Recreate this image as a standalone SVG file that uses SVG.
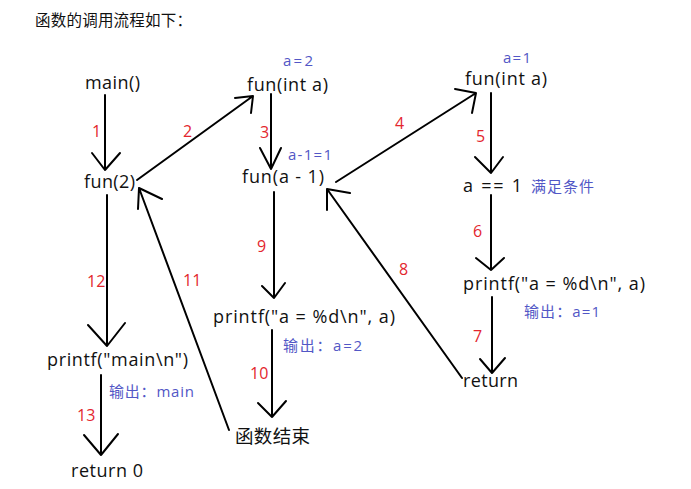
<svg xmlns="http://www.w3.org/2000/svg" width="691" height="489" viewBox="0 0 691 489">
<style>
.t{font-family:"Open Sans","Noto Sans CJK SC",sans-serif;font-size:18px;fill:#111}
.c{font-family:"Noto Sans CJK SC",sans-serif;fill:#111}
.n{font-family:"Open Sans","Noto Sans CJK SC",sans-serif;font-size:16px;fill:#e3262e}
.b{font-family:"Open Sans","Noto Sans CJK SC",sans-serif;font-size:15px;fill:#5257c6}
.e{stroke:#000;stroke-width:2;fill:none;stroke-linecap:round;stroke-linejoin:round}
</style>
<rect width="691" height="489" fill="#fff"/>
<text class="c" x="35" y="26" font-size="15.5" textLength="157">函数的调用流程如下：</text>

<g id="main"><text class="t" x="85" y="89" textLength="55">main()</text></g>
<g id="fun2"><text class="t" x="84" y="188" textLength="51">fun(2)</text></g>
<g id="printfMain"><text class="t" x="47" y="366" textLength="141">printf("main\n")</text>
<text class="b" x="109" y="397" textLength="85">输出：main</text></g>
<g id="return0"><text class="t" x="71" y="477" textLength="72">return 0</text></g>

<g id="funInt1"><text class="t" x="247" y="91" textLength="81">fun(int a)</text>
<text class="b" x="283" y="66" textLength="30">a=2</text></g>
<g id="funA1"><text class="t" x="242" y="183" textLength="82">fun(a - 1)</text>
<text class="b" x="288" y="160" textLength="44">a-1=1</text></g>
<g id="printf1"><text class="t" x="213" y="323" textLength="182">printf("a = %d\n", a)</text>
<text class="b" x="283" y="351" textLength="79">输出：a=2</text></g>
<g id="end"><text class="c" x="235" y="443" font-size="18.5" textLength="75">函数结束</text></g>

<g id="funInt2"><text class="t" x="465" y="85" textLength="82">fun(int a)</text>
<text class="b" x="503" y="63" textLength="28">a=1</text></g>
<g id="cond"><text class="t" x="463" y="192" textLength="59">a == 1</text>
<text class="b" x="531" y="192" textLength="63">满足条件</text></g>
<g id="printf2"><text class="t" x="463" y="290" textLength="182">printf("a = %d\n", a)</text>
<text class="b" x="524" y="317" textLength="76">输出：a=1</text></g>
<g id="return"><text class="t" x="463" y="387" textLength="55">return</text></g>

<g id="connectors">
<path class="e" d="M105,95V170M92,153L105,170L120,153"/>
<path class="e" d="M137,180L253,96M235,98L253,96L251,113"/>
<path class="e" d="M271,94V169M260,148L271,169L281,148"/>
<path class="e" d="M336,182L476,93M455,89L476,93L472,113"/>
<path class="e" d="M491,93V173M475,157L491,173L503,157"/>
<path class="e" d="M491,195V270M476,258L491,270L504,258"/>
<path class="e" d="M492,297V373M480,359L492,373L505,358"/>
<path class="e" d="M462,378L327,189M350,193L327,189L327,210"/>
<path class="e" d="M274,192V298M262,286L274,298L285,283"/>
<path class="e" d="M272,330V417M258,403L272,417L286,401"/>
<path class="e" d="M229,430L139,188M162,199L139,188L138,209"/>
<path class="e" d="M107,195V346M88,325L107,346L125,323"/>
<path class="e" d="M101,375V455M84,435L101,455L118,434"/>
</g>
<g id="labels">
<text class="n" x="92" y="137">1</text>
<text class="n" x="183" y="137">2</text>
<text class="n" x="260" y="138">3</text>
<text class="n" x="395" y="129">4</text>
<text class="n" x="476" y="142">5</text>
<text class="n" x="473" y="237">6</text>
<text class="n" x="473" y="342">7</text>
<text class="n" x="399" y="275">8</text>
<text class="n" x="257" y="252">9</text>
<text class="n" x="250" y="379">10</text>
<text class="n" x="183" y="286">11</text>
<text class="n" x="87" y="287">12</text>
<text class="n" x="77" y="421">13</text>
</g>
</svg>
